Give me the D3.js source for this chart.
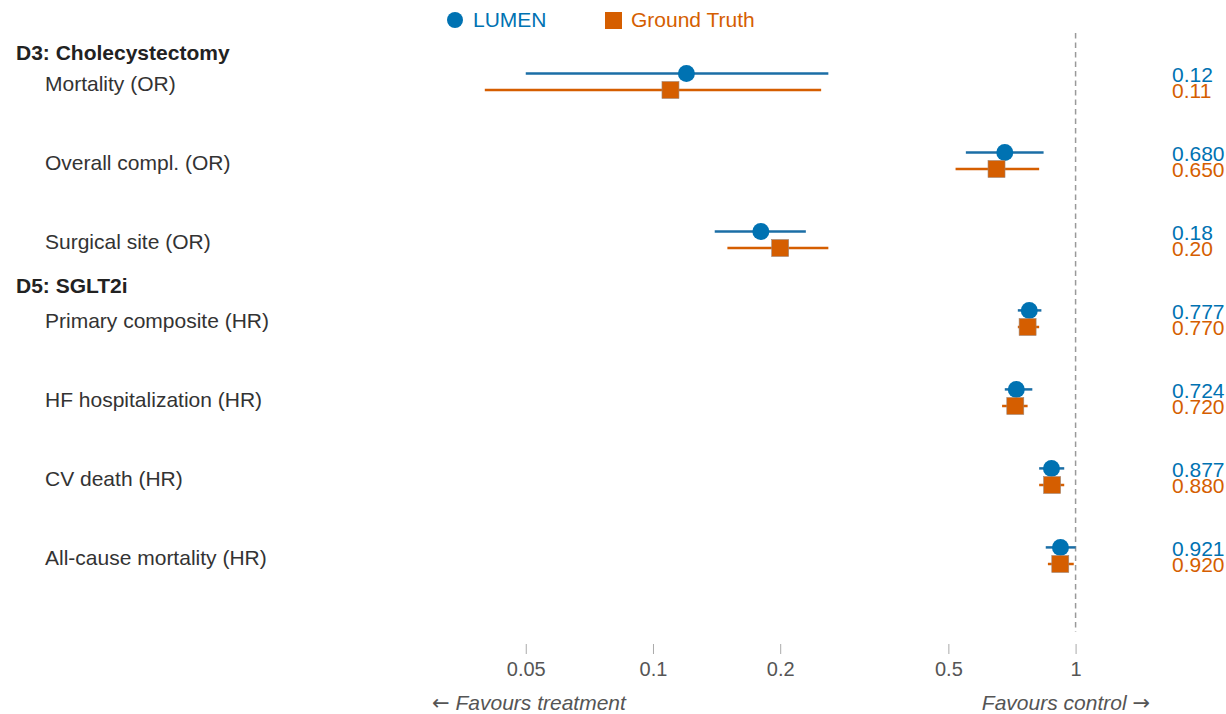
<!DOCTYPE html>
<html>
<head>
    <meta charset="utf-8">
    <script src="https://d3js.org/d3.v7.min.js"></script>
    <style>
        body { margin: 0; background: #fff; }
        text { font-family: "Liberation Sans", Arial, sans-serif; }
    </style>
</head>
<body>
<script>
    // Outcomes, in drawing order (top to bottom)
    var outcomes = ["Mortality (OR)", "Overall compl. (OR)", "Surgical site (OR)",
        "Primary composite (HR)", "HF hospitalization (HR)", "CV death (HR)", "All-cause mortality (HR)"];

    // Group headers and the index of their first outcome
    var groupNames = ["D3: Cholecystectomy", "D5: SGLT2i"];
    var groupStart = [0, 3];

    // LUMEN estimates and 95% CI
    var lumenEst = [0.12, 0.68, 0.18, 0.777, 0.724, 0.877, 0.921];
    var lumenLo = [0.05, 0.55, 0.14, 0.73, 0.68, 0.82, 0.85];
    var lumenHi = [0.26, 0.84, 0.23, 0.83, 0.79, 0.94, 1.0];
    var lumenText = ["0.12", "0.680", "0.18", "0.777", "0.724", "0.877", "0.921"];

    // Ground truth estimates and 95% CI
    var gtEst = [0.11, 0.65, 0.20, 0.77, 0.72, 0.88, 0.92];
    var gtLo = [0.04, 0.52, 0.15, 0.73, 0.67, 0.82, 0.86];
    var gtHi = [0.25, 0.82, 0.26, 0.82, 0.77, 0.94, 0.99];
    var gtText = ["0.11", "0.650", "0.20", "0.770", "0.720", "0.880", "0.920"];

    var tickValues = [0.05, 0.1, 0.2, 0.5, 1];
    var tickLabels = ["0.05", "0.1", "0.2", "0.5", "1"];

    var blue = "#0072B2", orange = "#D55E00";
    var width = 1226, height = 714;

    var svg = d3.select("body").append("svg")
        .attr("width", width)
        .attr("height", height);

    var x = d3.scaleLog().domain([0.03, 1.5]).range([432, 1150]);
    var y = d3.scaleLinear().domain([0, outcomes.length - 1]).range([81.7, 555.7]);
    var headerOffset = [-28.7, -33.2];

    // reference line at 1
    svg.append("line")
        .attr("x1", x(1)).attr("x2", x(1))
        .attr("y1", 33).attr("y2", 632)
        .attr("stroke", "#999")
        .attr("stroke-width", 1.5)
        .attr("stroke-dasharray", "5.5,4");

    // axis: just small ticks and labels
    var axis = d3.axisBottom(x)
        .tickValues(tickValues)
        .tickFormat(function (d, i) { return tickLabels[i]; })
        .tickSize(10)
        .tickPadding(8);

    var gAxis = svg.append("g")
        .attr("transform", "translate(0,644)")
        .call(axis);
    gAxis.select(".domain").remove();
    gAxis.selectAll(".tick line").attr("stroke", "#aaa");
    gAxis.selectAll(".tick text")
        .attr("fill", "#555")
        .style("font-size", "20px")
        .style("font-family", "'Liberation Sans', Arial, sans-serif");

    var left = svg.append("text")
        .attr("x", x(0.03)).attr("y", 710)
        .attr("fill", "#555")
        .style("font-size", "21px")
        .style("font-style", "italic");
    left.append("tspan").style("font-family", "'DejaVu Sans'").style("font-style", "normal").text("\u2190");
    left.append("tspan").text(" Favours treatment");

    var right = svg.append("text")
        .attr("x", x(1.5)).attr("y", 710)
        .attr("text-anchor", "end")
        .attr("fill", "#555")
        .style("font-size", "21px")
        .style("font-style", "italic");
    right.append("tspan").text("Favours control ");
    right.append("tspan").style("font-family", "'DejaVu Sans'").style("font-style", "normal").text("\u2192");

    // group headers
    svg.selectAll(".header")
        .data(groupNames)
        .enter().append("text")
        .attr("class", "header")
        .attr("x", 16)
        .attr("y", function (d, i) { return y(groupStart[i]) + headerOffset[i]; })
        .attr("dy", "0.35em")
        .attr("fill", "#222")
        .style("font-size", "21px")
        .style("font-weight", "bold")
        .text(function (d) { return d; });

    // outcome labels
    svg.selectAll(".label")
        .data(outcomes)
        .enter().append("text")
        .attr("class", "label")
        .attr("x", 45)
        .attr("y", function (d, i) { return y(i) + 2; })
        .attr("dy", "0.35em")
        .attr("fill", "#333")
        .style("font-size", "21px")
        .text(function (d) { return d; });

    var rows = outcomes.map(function (d, i) { return i; });
    var off = 8.3;

    // LUMEN CIs
    svg.selectAll(".lci")
        .data(rows)
        .enter().append("line")
        .attr("x1", function (i) { return x(lumenLo[i]); })
        .attr("x2", function (i) { return x(lumenHi[i]); })
        .attr("y1", function (i) { return y(i) - off; })
        .attr("y2", function (i) { return y(i) - off; })
        .attr("stroke", "#1b6ea6")
        .attr("stroke-width", 2.5);

    // ground truth CIs
    svg.selectAll(".gci")
        .data(rows)
        .enter().append("line")
        .attr("x1", function (i) { return x(gtLo[i]); })
        .attr("x2", function (i) { return x(gtHi[i]); })
        .attr("y1", function (i) { return y(i) + off; })
        .attr("y2", function (i) { return y(i) + off; })
        .attr("stroke", orange)
        .attr("stroke-width", 2.5);

    svg.selectAll(".lpt")
        .data(rows)
        .enter().append("circle")
        .attr("cx", function (i) { return x(lumenEst[i]); })
        .attr("cy", function (i) { return y(i) - off; })
        .attr("r", 8.5)
        .attr("fill", blue);

    svg.selectAll(".gpt")
        .data(rows)
        .enter().append("rect")
        .attr("x", function (i) { return x(gtEst[i]) - 8.5; })
        .attr("y", function (i) { return y(i) + off - 8.5; })
        .attr("width", 17)
        .attr("height", 17)
        .attr("fill", orange)
        .attr("stroke", "#a08878")
        .attr("stroke-width", 0.6);

    // value columns
    svg.selectAll(".lval")
        .data(rows)
        .enter().append("text")
        .attr("x", 1172)
        .attr("y", function (i) { return y(i) - off + 1; })
        .attr("dy", "0.35em")
        .attr("fill", blue)
        .style("font-size", "21px")
        .text(function (i) { return lumenText[i]; });

    svg.selectAll(".gval")
        .data(rows)
        .enter().append("text")
        .attr("x", 1172)
        .attr("y", function (i) { return y(i) + off + 1; })
        .attr("dy", "0.35em")
        .attr("fill", orange)
        .style("font-size", "21px")
        .text(function (i) { return gtText[i]; });

    // legend
    var legend = svg.append("g");
    legend.append("circle")
        .attr("cx", 455).attr("cy", 20).attr("r", 8)
        .attr("fill", blue);
    legend.append("text")
        .attr("x", 473).attr("y", 20).attr("dy", "0.35em")
        .attr("fill", blue)
        .style("font-size", "21px")
        .text("LUMEN");
    legend.append("rect")
        .attr("x", 605).attr("y", 12).attr("width", 17).attr("height", 17)
        .attr("fill", orange);
    legend.append("text")
        .attr("x", 631).attr("y", 20).attr("dy", "0.35em")
        .attr("fill", orange)
        .style("font-size", "21px")
        .text("Ground Truth");
</script>
</body>
</html>
